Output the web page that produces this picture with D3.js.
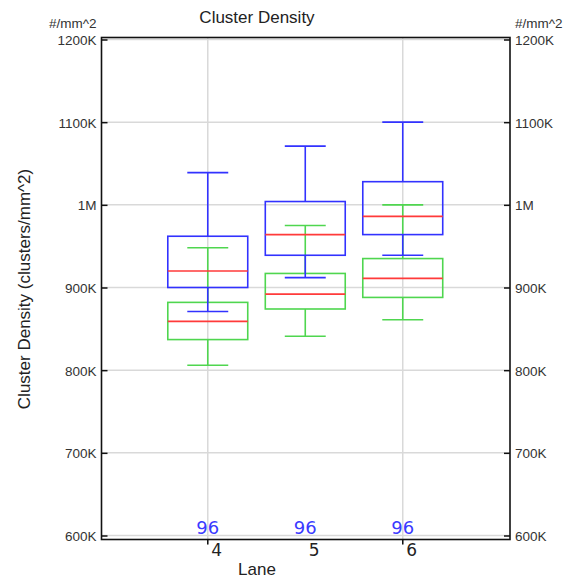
<!DOCTYPE html>
<html><head><meta charset="utf-8">
<script src="https://cdn.jsdelivr.net/npm/d3@7/dist/d3.min.js"></script>
<style>body{margin:0;background:#fff;}svg{display:block;}</style>
</head><body>
<svg id="chart" width="573" height="578"></svg>
<script>
// ---- data ----
const lanes = [4, 5, 6];
// [min, Q1, median, Q3, max] in K clusters/mm^2
const blueStats = [
  [871, 900, 920, 962, 1039],
  [912, 939, 964, 1004, 1071],
  [939, 964, 986, 1028, 1100]
];
const greenStats = [
  [806, 837, 859, 882, 948],
  [841, 874, 892, 917, 975],
  [861, 888, 911, 935, 1000]
];
const countLabels = ["96", "96", "96"];
const yTicks = [600, 700, 800, 900, 1000, 1100, 1200];
const yTickLabels = ["600K", "700K", "800K", "900K", "1M", "1100K", "1200K"];
const xGridValues = [4, 6];

// ---- layout ----
const svg = d3.select("#chart");
const L = 101.5, R = 510, T = 39.5, B = 535.5;
const x = d3.scaleLinear().domain([2.91, 7.1]).range([L, R]);
const y = d3.scaleLinear().domain([600, 1200]).range([B, T]);
const unit = x(5) - x(4);
const boxHalf = 0.41 * unit, capHalf = 0.21 * unit;

const font = "'Liberation Sans', Arial, sans-serif";

// gridlines
svg.append("g").selectAll("line").data(yTicks).join("line")
  .attr("x1", L).attr("x2", R).attr("y1", d => y(d)).attr("y2", d => y(d))
  .attr("stroke", "#d9d9d9").attr("stroke-width", 1.5);
svg.append("g").selectAll("line").data(xGridValues).join("line")
  .attr("x1", d => x(d)).attr("x2", d => x(d)).attr("y1", T - 2).attr("y2", B + 9)
  .attr("stroke", "#d9d9d9").attr("stroke-width", 1.5);

// count labels
svg.append("g").selectAll("text").data(lanes).join("text")
  .attr("x", d => x(d)).attr("y", B - 2)
  .attr("text-anchor", "middle")
  .attr("font-family", "'DejaVu Sans', Verdana, sans-serif").attr("font-size", 18)
  .attr("fill", "#3a3aff")
  .text((d, i) => countLabels[i]);

// frame
svg.append("rect").attr("x", L).attr("y", T - 2).attr("width", R - L).attr("height", B - T + 6)
  .attr("fill", "none").attr("stroke", "#111").attr("stroke-width", 1.6);

// y axes (ticks inward)
const axL = d3.axisRight(y).tickValues(yTicks).tickSize(6).tickFormat("");
const gL = svg.append("g").attr("transform", `translate(${L},0)`).call(axL);
gL.select(".domain").remove();
gL.selectAll("line").attr("stroke", "#111").attr("stroke-width", 1.5);
const axR = d3.axisLeft(y).tickValues(yTicks).tickSize(6).tickFormat("");
const gR = svg.append("g").attr("transform", `translate(${R},0)`).call(axR);
gR.select(".domain").remove();
gR.selectAll("line").attr("stroke", "#111").attr("stroke-width", 1.5);

// y tick labels
svg.append("g").selectAll("text").data(yTicks).join("text")
  .attr("x", L - 5).attr("y", d => y(d) + 5.5).attr("text-anchor", "end")
  .attr("font-family", font).attr("font-size", 13.5).attr("fill", "#333")
  .text((d, i) => yTickLabels[i]);
svg.append("g").selectAll("text").data(yTicks).join("text")
  .attr("x", R + 5).attr("y", d => y(d) + 5.5).attr("text-anchor", "start")
  .attr("font-family", font).attr("font-size", 13.5).attr("fill", "#333")
  .text((d, i) => yTickLabels[i]);
svg.append("text").attr("x", L - 5).attr("y", 28).attr("text-anchor", "end")
  .attr("font-family", font).attr("font-size", 13.5).attr("fill", "#333").text("#/mm^2");
svg.append("text").attr("x", R + 5).attr("y", 28).attr("text-anchor", "start")
  .attr("font-family", font).attr("font-size", 13.5).attr("fill", "#333").text("#/mm^2");

// x ticks & labels
svg.append("g").selectAll("line").data(xGridValues).join("line")
  .attr("x1", d => x(d)).attr("x2", d => x(d)).attr("y1", B + 4).attr("y2", B + 9)
  .attr("stroke", "#111").attr("stroke-width", 1.5);
svg.append("g").selectAll("text").data(lanes).join("text")
  .attr("x", d => x(d) + 9).attr("y", B + 20).attr("text-anchor", "middle")
  .attr("font-family", "'DejaVu Sans', Tahoma, sans-serif").attr("font-size", 17).attr("fill", "#222")
  .text(d => d);

// boxes
function drawBoxes(stats, color) {
  const g = svg.append("g");
  stats.forEach((s, i) => {
    const cx = x(lanes[i]);
    const [mn, q1, md, q3, mx] = s;
    const w = 1.6;
    g.append("line").attr("x1", cx).attr("x2", cx).attr("y1", y(mx)).attr("y2", y(q3)).attr("stroke", color).attr("stroke-width", w);
    g.append("line").attr("x1", cx).attr("x2", cx).attr("y1", y(q1)).attr("y2", y(mn)).attr("stroke", color).attr("stroke-width", w);
    g.append("line").attr("x1", cx - capHalf).attr("x2", cx + capHalf).attr("y1", y(mx)).attr("y2", y(mx)).attr("stroke", color).attr("stroke-width", w);
    g.append("line").attr("x1", cx - capHalf).attr("x2", cx + capHalf).attr("y1", y(mn)).attr("y2", y(mn)).attr("stroke", color).attr("stroke-width", w);
    g.append("rect").attr("x", cx - boxHalf).attr("width", 2 * boxHalf)
      .attr("y", y(q3)).attr("height", y(q1) - y(q3))
      .attr("fill", "none").attr("stroke", color).attr("stroke-width", w);
    g.append("line").attr("x1", cx - boxHalf).attr("x2", cx + boxHalf).attr("y1", y(md)).attr("y2", y(md)).attr("stroke", "#ff3a3a").attr("stroke-width", w);
  });
}
drawBoxes(greenStats, "#4fd64f");
drawBoxes(blueStats, "#3232ff");

// titles
svg.append("text").attr("x", 257).attr("y", 23).attr("text-anchor", "middle")
  .attr("font-family", font).attr("font-size", 17).attr("fill", "#222").text("Cluster Density");
svg.append("text").attr("x", 257).attr("y", 575).attr("text-anchor", "middle")
  .attr("font-family", font).attr("font-size", 17).attr("fill", "#222").text("Lane");
svg.append("text").attr("transform", "translate(30,289) rotate(-90)").attr("text-anchor", "middle")
  .attr("font-family", font).attr("font-size", 17).attr("fill", "#222").text("Cluster Density (clusters/mm^2)");
</script>
</body></html>
